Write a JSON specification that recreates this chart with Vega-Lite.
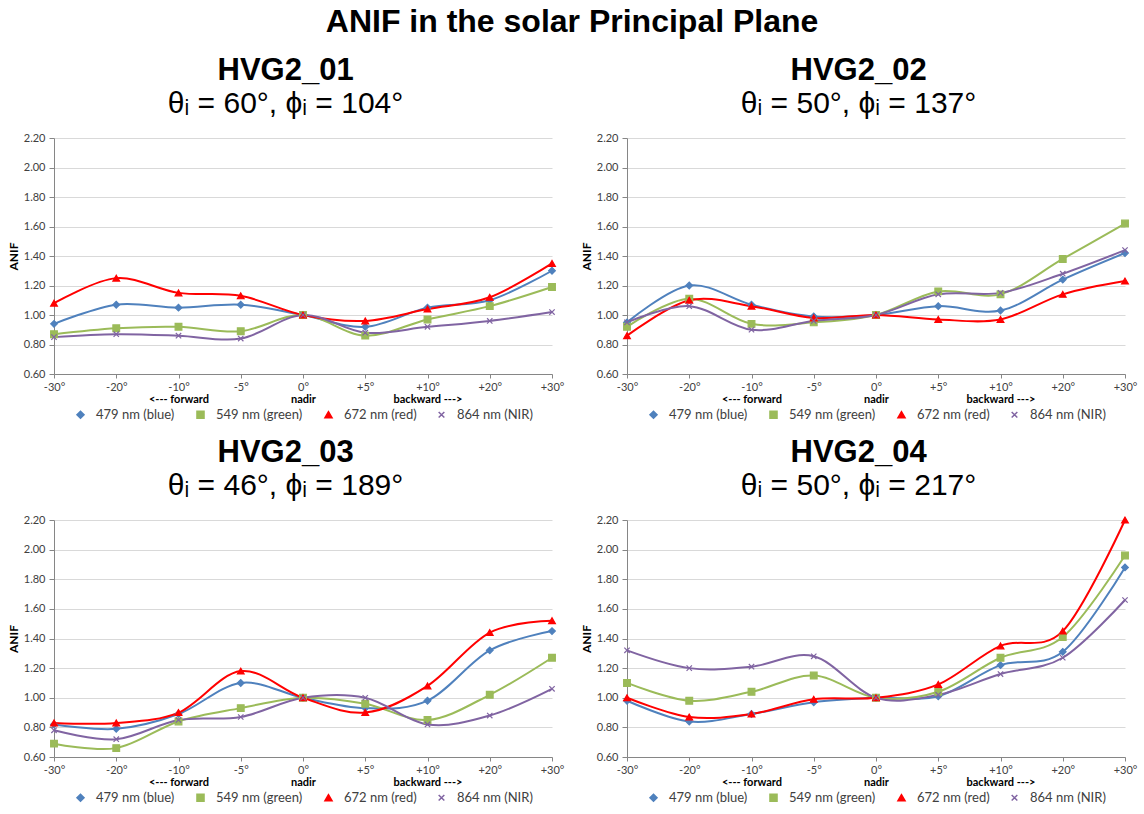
{
  "$schema": "https://vega.github.io/schema/vega-lite/v6.json",
  "background": "white",
  "padding": {"left": 7, "top": 6, "right": 2, "bottom": 2},
  "title": {"text": "ANIF in the solar Principal Plane", "font": "Liberation Sans", "fontSize": 32, "fontWeight": "bold", "color": "#000000", "anchor": "middle", "frame": "bounds", "offset": 16},
  "datasets": {
    "anif": [
      {"panel":"HVG2_01","angle":"-30°","band":"479 nm (blue)","anif":0.94},
      {"panel":"HVG2_01","angle":"-20°","band":"479 nm (blue)","anif":1.07},
      {"panel":"HVG2_01","angle":"-10°","band":"479 nm (blue)","anif":1.05},
      {"panel":"HVG2_01","angle":"-5°","band":"479 nm (blue)","anif":1.07},
      {"panel":"HVG2_01","angle":"0°","band":"479 nm (blue)","anif":1.00},
      {"panel":"HVG2_01","angle":"+5°","band":"479 nm (blue)","anif":0.92},
      {"panel":"HVG2_01","angle":"+10°","band":"479 nm (blue)","anif":1.05},
      {"panel":"HVG2_01","angle":"+20°","band":"479 nm (blue)","anif":1.10},
      {"panel":"HVG2_01","angle":"+30°","band":"479 nm (blue)","anif":1.30},
      {"panel":"HVG2_01","angle":"-30°","band":"549 nm (green)","anif":0.87},
      {"panel":"HVG2_01","angle":"-20°","band":"549 nm (green)","anif":0.91},
      {"panel":"HVG2_01","angle":"-10°","band":"549 nm (green)","anif":0.92},
      {"panel":"HVG2_01","angle":"-5°","band":"549 nm (green)","anif":0.89},
      {"panel":"HVG2_01","angle":"0°","band":"549 nm (green)","anif":1.00},
      {"panel":"HVG2_01","angle":"+5°","band":"549 nm (green)","anif":0.86},
      {"panel":"HVG2_01","angle":"+10°","band":"549 nm (green)","anif":0.97},
      {"panel":"HVG2_01","angle":"+20°","band":"549 nm (green)","anif":1.06},
      {"panel":"HVG2_01","angle":"+30°","band":"549 nm (green)","anif":1.19},
      {"panel":"HVG2_01","angle":"-30°","band":"672 nm (red)","anif":1.08},
      {"panel":"HVG2_01","angle":"-20°","band":"672 nm (red)","anif":1.25},
      {"panel":"HVG2_01","angle":"-10°","band":"672 nm (red)","anif":1.15},
      {"panel":"HVG2_01","angle":"-5°","band":"672 nm (red)","anif":1.13},
      {"panel":"HVG2_01","angle":"0°","band":"672 nm (red)","anif":1.00},
      {"panel":"HVG2_01","angle":"+5°","band":"672 nm (red)","anif":0.96},
      {"panel":"HVG2_01","angle":"+10°","band":"672 nm (red)","anif":1.04},
      {"panel":"HVG2_01","angle":"+20°","band":"672 nm (red)","anif":1.12},
      {"panel":"HVG2_01","angle":"+30°","band":"672 nm (red)","anif":1.35},
      {"panel":"HVG2_01","angle":"-30°","band":"864 nm (NIR)","anif":0.85},
      {"panel":"HVG2_01","angle":"-20°","band":"864 nm (NIR)","anif":0.87},
      {"panel":"HVG2_01","angle":"-10°","band":"864 nm (NIR)","anif":0.86},
      {"panel":"HVG2_01","angle":"-5°","band":"864 nm (NIR)","anif":0.84},
      {"panel":"HVG2_01","angle":"0°","band":"864 nm (NIR)","anif":1.00},
      {"panel":"HVG2_01","angle":"+5°","band":"864 nm (NIR)","anif":0.88},
      {"panel":"HVG2_01","angle":"+10°","band":"864 nm (NIR)","anif":0.92},
      {"panel":"HVG2_01","angle":"+20°","band":"864 nm (NIR)","anif":0.96},
      {"panel":"HVG2_01","angle":"+30°","band":"864 nm (NIR)","anif":1.02},

      {"panel":"HVG2_02","angle":"-30°","band":"479 nm (blue)","anif":0.95},
      {"panel":"HVG2_02","angle":"-20°","band":"479 nm (blue)","anif":1.20},
      {"panel":"HVG2_02","angle":"-10°","band":"479 nm (blue)","anif":1.07},
      {"panel":"HVG2_02","angle":"-5°","band":"479 nm (blue)","anif":0.99},
      {"panel":"HVG2_02","angle":"0°","band":"479 nm (blue)","anif":1.00},
      {"panel":"HVG2_02","angle":"+5°","band":"479 nm (blue)","anif":1.06},
      {"panel":"HVG2_02","angle":"+10°","band":"479 nm (blue)","anif":1.03},
      {"panel":"HVG2_02","angle":"+20°","band":"479 nm (blue)","anif":1.24},
      {"panel":"HVG2_02","angle":"+30°","band":"479 nm (blue)","anif":1.42},
      {"panel":"HVG2_02","angle":"-30°","band":"549 nm (green)","anif":0.92},
      {"panel":"HVG2_02","angle":"-20°","band":"549 nm (green)","anif":1.11},
      {"panel":"HVG2_02","angle":"-10°","band":"549 nm (green)","anif":0.94},
      {"panel":"HVG2_02","angle":"-5°","band":"549 nm (green)","anif":0.95},
      {"panel":"HVG2_02","angle":"0°","band":"549 nm (green)","anif":1.00},
      {"panel":"HVG2_02","angle":"+5°","band":"549 nm (green)","anif":1.16},
      {"panel":"HVG2_02","angle":"+10°","band":"549 nm (green)","anif":1.14},
      {"panel":"HVG2_02","angle":"+20°","band":"549 nm (green)","anif":1.38},
      {"panel":"HVG2_02","angle":"+30°","band":"549 nm (green)","anif":1.62},
      {"panel":"HVG2_02","angle":"-30°","band":"672 nm (red)","anif":0.86},
      {"panel":"HVG2_02","angle":"-20°","band":"672 nm (red)","anif":1.10},
      {"panel":"HVG2_02","angle":"-10°","band":"672 nm (red)","anif":1.06},
      {"panel":"HVG2_02","angle":"-5°","band":"672 nm (red)","anif":0.98},
      {"panel":"HVG2_02","angle":"0°","band":"672 nm (red)","anif":1.00},
      {"panel":"HVG2_02","angle":"+5°","band":"672 nm (red)","anif":0.97},
      {"panel":"HVG2_02","angle":"+10°","band":"672 nm (red)","anif":0.97},
      {"panel":"HVG2_02","angle":"+20°","band":"672 nm (red)","anif":1.14},
      {"panel":"HVG2_02","angle":"+30°","band":"672 nm (red)","anif":1.23},
      {"panel":"HVG2_02","angle":"-30°","band":"864 nm (NIR)","anif":0.95},
      {"panel":"HVG2_02","angle":"-20°","band":"864 nm (NIR)","anif":1.06},
      {"panel":"HVG2_02","angle":"-10°","band":"864 nm (NIR)","anif":0.90},
      {"panel":"HVG2_02","angle":"-5°","band":"864 nm (NIR)","anif":0.96},
      {"panel":"HVG2_02","angle":"0°","band":"864 nm (NIR)","anif":1.00},
      {"panel":"HVG2_02","angle":"+5°","band":"864 nm (NIR)","anif":1.14},
      {"panel":"HVG2_02","angle":"+10°","band":"864 nm (NIR)","anif":1.15},
      {"panel":"HVG2_02","angle":"+20°","band":"864 nm (NIR)","anif":1.28},
      {"panel":"HVG2_02","angle":"+30°","band":"864 nm (NIR)","anif":1.44},

      {"panel":"HVG2_03","angle":"-30°","band":"479 nm (blue)","anif":0.82},
      {"panel":"HVG2_03","angle":"-20°","band":"479 nm (blue)","anif":0.79},
      {"panel":"HVG2_03","angle":"-10°","band":"479 nm (blue)","anif":0.89},
      {"panel":"HVG2_03","angle":"-5°","band":"479 nm (blue)","anif":1.10},
      {"panel":"HVG2_03","angle":"0°","band":"479 nm (blue)","anif":1.00},
      {"panel":"HVG2_03","angle":"+5°","band":"479 nm (blue)","anif":0.93},
      {"panel":"HVG2_03","angle":"+10°","band":"479 nm (blue)","anif":0.98},
      {"panel":"HVG2_03","angle":"+20°","band":"479 nm (blue)","anif":1.32},
      {"panel":"HVG2_03","angle":"+30°","band":"479 nm (blue)","anif":1.45},
      {"panel":"HVG2_03","angle":"-30°","band":"549 nm (green)","anif":0.69},
      {"panel":"HVG2_03","angle":"-20°","band":"549 nm (green)","anif":0.66},
      {"panel":"HVG2_03","angle":"-10°","band":"549 nm (green)","anif":0.84},
      {"panel":"HVG2_03","angle":"-5°","band":"549 nm (green)","anif":0.93},
      {"panel":"HVG2_03","angle":"0°","band":"549 nm (green)","anif":1.00},
      {"panel":"HVG2_03","angle":"+5°","band":"549 nm (green)","anif":0.96},
      {"panel":"HVG2_03","angle":"+10°","band":"549 nm (green)","anif":0.85},
      {"panel":"HVG2_03","angle":"+20°","band":"549 nm (green)","anif":1.02},
      {"panel":"HVG2_03","angle":"+30°","band":"549 nm (green)","anif":1.27},
      {"panel":"HVG2_03","angle":"-30°","band":"672 nm (red)","anif":0.83},
      {"panel":"HVG2_03","angle":"-20°","band":"672 nm (red)","anif":0.83},
      {"panel":"HVG2_03","angle":"-10°","band":"672 nm (red)","anif":0.90},
      {"panel":"HVG2_03","angle":"-5°","band":"672 nm (red)","anif":1.18},
      {"panel":"HVG2_03","angle":"0°","band":"672 nm (red)","anif":1.00},
      {"panel":"HVG2_03","angle":"+5°","band":"672 nm (red)","anif":0.90},
      {"panel":"HVG2_03","angle":"+10°","band":"672 nm (red)","anif":1.08},
      {"panel":"HVG2_03","angle":"+20°","band":"672 nm (red)","anif":1.44},
      {"panel":"HVG2_03","angle":"+30°","band":"672 nm (red)","anif":1.52},
      {"panel":"HVG2_03","angle":"-30°","band":"864 nm (NIR)","anif":0.78},
      {"panel":"HVG2_03","angle":"-20°","band":"864 nm (NIR)","anif":0.72},
      {"panel":"HVG2_03","angle":"-10°","band":"864 nm (NIR)","anif":0.85},
      {"panel":"HVG2_03","angle":"-5°","band":"864 nm (NIR)","anif":0.87},
      {"panel":"HVG2_03","angle":"0°","band":"864 nm (NIR)","anif":1.00},
      {"panel":"HVG2_03","angle":"+5°","band":"864 nm (NIR)","anif":1.00},
      {"panel":"HVG2_03","angle":"+10°","band":"864 nm (NIR)","anif":0.82},
      {"panel":"HVG2_03","angle":"+20°","band":"864 nm (NIR)","anif":0.88},
      {"panel":"HVG2_03","angle":"+30°","band":"864 nm (NIR)","anif":1.06},

      {"panel":"HVG2_04","angle":"-30°","band":"479 nm (blue)","anif":0.98},
      {"panel":"HVG2_04","angle":"-20°","band":"479 nm (blue)","anif":0.84},
      {"panel":"HVG2_04","angle":"-10°","band":"479 nm (blue)","anif":0.89},
      {"panel":"HVG2_04","angle":"-5°","band":"479 nm (blue)","anif":0.97},
      {"panel":"HVG2_04","angle":"0°","band":"479 nm (blue)","anif":1.00},
      {"panel":"HVG2_04","angle":"+5°","band":"479 nm (blue)","anif":1.01},
      {"panel":"HVG2_04","angle":"+10°","band":"479 nm (blue)","anif":1.22},
      {"panel":"HVG2_04","angle":"+20°","band":"479 nm (blue)","anif":1.31},
      {"panel":"HVG2_04","angle":"+30°","band":"479 nm (blue)","anif":1.88},
      {"panel":"HVG2_04","angle":"-30°","band":"549 nm (green)","anif":1.10},
      {"panel":"HVG2_04","angle":"-20°","band":"549 nm (green)","anif":0.98},
      {"panel":"HVG2_04","angle":"-10°","band":"549 nm (green)","anif":1.04},
      {"panel":"HVG2_04","angle":"-5°","band":"549 nm (green)","anif":1.15},
      {"panel":"HVG2_04","angle":"0°","band":"549 nm (green)","anif":1.00},
      {"panel":"HVG2_04","angle":"+5°","band":"549 nm (green)","anif":1.04},
      {"panel":"HVG2_04","angle":"+10°","band":"549 nm (green)","anif":1.27},
      {"panel":"HVG2_04","angle":"+20°","band":"549 nm (green)","anif":1.41},
      {"panel":"HVG2_04","angle":"+30°","band":"549 nm (green)","anif":1.96},
      {"panel":"HVG2_04","angle":"-30°","band":"672 nm (red)","anif":1.00},
      {"panel":"HVG2_04","angle":"-20°","band":"672 nm (red)","anif":0.87},
      {"panel":"HVG2_04","angle":"-10°","band":"672 nm (red)","anif":0.89},
      {"panel":"HVG2_04","angle":"-5°","band":"672 nm (red)","anif":0.99},
      {"panel":"HVG2_04","angle":"0°","band":"672 nm (red)","anif":1.00},
      {"panel":"HVG2_04","angle":"+5°","band":"672 nm (red)","anif":1.09},
      {"panel":"HVG2_04","angle":"+10°","band":"672 nm (red)","anif":1.35},
      {"panel":"HVG2_04","angle":"+20°","band":"672 nm (red)","anif":1.45},
      {"panel":"HVG2_04","angle":"+30°","band":"672 nm (red)","anif":2.20},
      {"panel":"HVG2_04","angle":"-30°","band":"864 nm (NIR)","anif":1.32},
      {"panel":"HVG2_04","angle":"-20°","band":"864 nm (NIR)","anif":1.20},
      {"panel":"HVG2_04","angle":"-10°","band":"864 nm (NIR)","anif":1.21},
      {"panel":"HVG2_04","angle":"-5°","band":"864 nm (NIR)","anif":1.28},
      {"panel":"HVG2_04","angle":"0°","band":"864 nm (NIR)","anif":1.00},
      {"panel":"HVG2_04","angle":"+5°","band":"864 nm (NIR)","anif":1.02},
      {"panel":"HVG2_04","angle":"+10°","band":"864 nm (NIR)","anif":1.16},
      {"panel":"HVG2_04","angle":"+20°","band":"864 nm (NIR)","anif":1.27},
      {"panel":"HVG2_04","angle":"+30°","band":"864 nm (NIR)","anif":1.66}
    ]
  },
  "data": {"name": "anif"},
  "spacing": 15,
  "resolve": {"scale": {"fill": "independent", "stroke": "independent", "shape": "independent"}, "legend": {"fill": "independent", "stroke": "independent", "shape": "independent"}},
  "vconcat": [
    {
      "spacing": 16,
      "resolve": {"scale": {"fill": "independent", "stroke": "independent", "shape": "independent"}, "legend": {"fill": "independent", "stroke": "independent", "shape": "independent"}},
      "hconcat": [
        {
          "title": {"text": "HVG2_01", "subtitle": "θᵢ = 60°, ϕᵢ = 104°"},
          "width": 498, "height": 236,
          "transform": [{"filter": "datum.panel === 'HVG2_01'"}],
          "resolve": {"axis": {"x": "independent"}},
          "layer": [
            {"mark": {"type": "line", "interpolate": "cardinal", "strokeWidth": 2},
             "encoding": {
               "x": {"field": "angle", "type": "ordinal", "sort": ["-30°","-20°","-10°","-5°","0°","+5°","+10°","+20°","+30°"], "scale": {"type": "point", "padding": 0}, "axis": {"orient": "bottom", "title": null, "labelAngle": 0, "grid": false}},
               "y": {"field": "anif", "type": "quantitative", "scale": {"domain": [0.6, 2.2], "nice": false, "zero": false}, "axis": {"title": "ANIF", "values": [0.6,0.8,1.0,1.2,1.4,1.6,1.8,2.0,2.2], "tickCount": 20, "format": ".2f", "labelOverlap": false}},
               "stroke": {"field": "band", "type": "nominal", "scale": {"domain": ["479 nm (blue)","549 nm (green)","672 nm (red)","864 nm (NIR)"], "range": ["#4F81BD","#9BBB59","#FF0000","#8064A2"]}, "legend": {"title": null}},
               "order": {"value": null}
             }},
            {"mark": {"type": "point", "filled": true, "size": 45, "opacity": 1, "strokeWidth": 1.2},
             "encoding": {
               "x": {"field": "angle", "type": "ordinal", "sort": ["-30°","-20°","-10°","-5°","0°","+5°","+10°","+20°","+30°"], "axis": null},
               "y": {"field": "anif", "type": "quantitative", "axis": {"title": "ANIF", "values": [0.6,0.8,1.0,1.2,1.4,1.6,1.8,2.0,2.2], "tickCount": 20, "format": ".2f", "labelOverlap": false}},
               "fill": {"field": "band", "type": "nominal", "scale": {"domain": ["479 nm (blue)","549 nm (green)","672 nm (red)","864 nm (NIR)"], "range": ["#4F81BD","#9BBB59","#FF0000","#8064A2"]}, "legend": {"title": null}},
               "stroke": {"field": "band", "type": "nominal", "legend": {"title": null}},
               "shape": {"field": "band", "type": "nominal", "scale": {"domain": ["479 nm (blue)","549 nm (green)","672 nm (red)","864 nm (NIR)"], "range": ["diamond","square","triangle-up","M-0.8,-0.8L0.8,0.8M-0.8,0.8L0.8,-0.8"]}, "legend": {"title": null}}
             }},
            {"mark": {"type": "point", "opacity": 0},
             "encoding": {
               "x": {"field": "angle", "type": "ordinal", "sort": ["-30°","-20°","-10°","-5°","0°","+5°","+10°","+20°","+30°"], "axis": {"orient": "bottom", "title": null, "labelAngle": 0, "grid": false, "domain": false, "ticks": false, "labelPadding": 19, "labelFontWeight": "bold", "labelColor": "#000000", "labelExpr": "datum.value == '-10°' ? '<--- forward' : datum.value == '0°' ? 'nadir' : datum.value == '+10°' ? 'backward --->' : ''"}},
               "y": {"field": "anif", "type": "quantitative", "axis": {"title": "ANIF", "values": [0.6,0.8,1.0,1.2,1.4,1.6,1.8,2.0,2.2], "tickCount": 20, "format": ".2f", "labelOverlap": false}}
             }}
          ]
        },
        {
          "title": {"text": "HVG2_02", "subtitle": "θᵢ = 50°, ϕᵢ = 137°"},
          "width": 498, "height": 236,
          "transform": [{"filter": "datum.panel === 'HVG2_02'"}],
          "resolve": {"axis": {"x": "independent"}},
          "layer": [
            {"mark": {"type": "line", "interpolate": "cardinal", "strokeWidth": 2},
             "encoding": {
               "x": {"field": "angle", "type": "ordinal", "sort": ["-30°","-20°","-10°","-5°","0°","+5°","+10°","+20°","+30°"], "scale": {"type": "point", "padding": 0}, "axis": {"orient": "bottom", "title": null, "labelAngle": 0, "grid": false}},
               "y": {"field": "anif", "type": "quantitative", "scale": {"domain": [0.6, 2.2], "nice": false, "zero": false}, "axis": {"title": "ANIF", "values": [0.6,0.8,1.0,1.2,1.4,1.6,1.8,2.0,2.2], "tickCount": 20, "format": ".2f", "labelOverlap": false}},
               "stroke": {"field": "band", "type": "nominal", "scale": {"domain": ["479 nm (blue)","549 nm (green)","672 nm (red)","864 nm (NIR)"], "range": ["#4F81BD","#9BBB59","#FF0000","#8064A2"]}, "legend": {"title": null}},
               "order": {"value": null}
             }},
            {"mark": {"type": "point", "filled": true, "size": 45, "opacity": 1, "strokeWidth": 1.2},
             "encoding": {
               "x": {"field": "angle", "type": "ordinal", "sort": ["-30°","-20°","-10°","-5°","0°","+5°","+10°","+20°","+30°"], "axis": null},
               "y": {"field": "anif", "type": "quantitative", "axis": {"title": "ANIF", "values": [0.6,0.8,1.0,1.2,1.4,1.6,1.8,2.0,2.2], "tickCount": 20, "format": ".2f", "labelOverlap": false}},
               "fill": {"field": "band", "type": "nominal", "scale": {"domain": ["479 nm (blue)","549 nm (green)","672 nm (red)","864 nm (NIR)"], "range": ["#4F81BD","#9BBB59","#FF0000","#8064A2"]}, "legend": {"title": null}},
               "stroke": {"field": "band", "type": "nominal", "legend": {"title": null}},
               "shape": {"field": "band", "type": "nominal", "scale": {"domain": ["479 nm (blue)","549 nm (green)","672 nm (red)","864 nm (NIR)"], "range": ["diamond","square","triangle-up","M-0.8,-0.8L0.8,0.8M-0.8,0.8L0.8,-0.8"]}, "legend": {"title": null}}
             }},
            {"mark": {"type": "point", "opacity": 0},
             "encoding": {
               "x": {"field": "angle", "type": "ordinal", "sort": ["-30°","-20°","-10°","-5°","0°","+5°","+10°","+20°","+30°"], "axis": {"orient": "bottom", "title": null, "labelAngle": 0, "grid": false, "domain": false, "ticks": false, "labelPadding": 19, "labelFontWeight": "bold", "labelColor": "#000000", "labelExpr": "datum.value == '-10°' ? '<--- forward' : datum.value == '0°' ? 'nadir' : datum.value == '+10°' ? 'backward --->' : ''"}},
               "y": {"field": "anif", "type": "quantitative", "axis": {"title": "ANIF", "values": [0.6,0.8,1.0,1.2,1.4,1.6,1.8,2.0,2.2], "tickCount": 20, "format": ".2f", "labelOverlap": false}}
             }}
          ]
        }
      ]
    },
    {
      "spacing": 16,
      "resolve": {"scale": {"fill": "independent", "stroke": "independent", "shape": "independent"}, "legend": {"fill": "independent", "stroke": "independent", "shape": "independent"}},
      "hconcat": [
        {
          "title": {"text": "HVG2_03", "subtitle": "θᵢ = 46°, ϕᵢ = 189°"},
          "width": 498, "height": 237,
          "transform": [{"filter": "datum.panel === 'HVG2_03'"}],
          "resolve": {"axis": {"x": "independent"}},
          "layer": [
            {"mark": {"type": "line", "interpolate": "cardinal", "strokeWidth": 2},
             "encoding": {
               "x": {"field": "angle", "type": "ordinal", "sort": ["-30°","-20°","-10°","-5°","0°","+5°","+10°","+20°","+30°"], "scale": {"type": "point", "padding": 0}, "axis": {"orient": "bottom", "title": null, "labelAngle": 0, "grid": false}},
               "y": {"field": "anif", "type": "quantitative", "scale": {"domain": [0.6, 2.2], "nice": false, "zero": false}, "axis": {"title": "ANIF", "values": [0.6,0.8,1.0,1.2,1.4,1.6,1.8,2.0,2.2], "tickCount": 20, "format": ".2f", "labelOverlap": false}},
               "stroke": {"field": "band", "type": "nominal", "scale": {"domain": ["479 nm (blue)","549 nm (green)","672 nm (red)","864 nm (NIR)"], "range": ["#4F81BD","#9BBB59","#FF0000","#8064A2"]}, "legend": {"title": null}},
               "order": {"value": null}
             }},
            {"mark": {"type": "point", "filled": true, "size": 45, "opacity": 1, "strokeWidth": 1.2},
             "encoding": {
               "x": {"field": "angle", "type": "ordinal", "sort": ["-30°","-20°","-10°","-5°","0°","+5°","+10°","+20°","+30°"], "axis": null},
               "y": {"field": "anif", "type": "quantitative", "axis": {"title": "ANIF", "values": [0.6,0.8,1.0,1.2,1.4,1.6,1.8,2.0,2.2], "tickCount": 20, "format": ".2f", "labelOverlap": false}},
               "fill": {"field": "band", "type": "nominal", "scale": {"domain": ["479 nm (blue)","549 nm (green)","672 nm (red)","864 nm (NIR)"], "range": ["#4F81BD","#9BBB59","#FF0000","#8064A2"]}, "legend": {"title": null}},
               "stroke": {"field": "band", "type": "nominal", "legend": {"title": null}},
               "shape": {"field": "band", "type": "nominal", "scale": {"domain": ["479 nm (blue)","549 nm (green)","672 nm (red)","864 nm (NIR)"], "range": ["diamond","square","triangle-up","M-0.8,-0.8L0.8,0.8M-0.8,0.8L0.8,-0.8"]}, "legend": {"title": null}}
             }},
            {"mark": {"type": "point", "opacity": 0},
             "encoding": {
               "x": {"field": "angle", "type": "ordinal", "sort": ["-30°","-20°","-10°","-5°","0°","+5°","+10°","+20°","+30°"], "axis": {"orient": "bottom", "title": null, "labelAngle": 0, "grid": false, "domain": false, "ticks": false, "labelPadding": 19, "labelFontWeight": "bold", "labelColor": "#000000", "labelExpr": "datum.value == '-10°' ? '<--- forward' : datum.value == '0°' ? 'nadir' : datum.value == '+10°' ? 'backward --->' : ''"}},
               "y": {"field": "anif", "type": "quantitative", "axis": {"title": "ANIF", "values": [0.6,0.8,1.0,1.2,1.4,1.6,1.8,2.0,2.2], "tickCount": 20, "format": ".2f", "labelOverlap": false}}
             }}
          ]
        },
        {
          "title": {"text": "HVG2_04", "subtitle": "θᵢ = 50°, ϕᵢ = 217°"},
          "width": 498, "height": 237,
          "transform": [{"filter": "datum.panel === 'HVG2_04'"}],
          "resolve": {"axis": {"x": "independent"}},
          "layer": [
            {"mark": {"type": "line", "interpolate": "cardinal", "strokeWidth": 2},
             "encoding": {
               "x": {"field": "angle", "type": "ordinal", "sort": ["-30°","-20°","-10°","-5°","0°","+5°","+10°","+20°","+30°"], "scale": {"type": "point", "padding": 0}, "axis": {"orient": "bottom", "title": null, "labelAngle": 0, "grid": false}},
               "y": {"field": "anif", "type": "quantitative", "scale": {"domain": [0.6, 2.2], "nice": false, "zero": false}, "axis": {"title": "ANIF", "values": [0.6,0.8,1.0,1.2,1.4,1.6,1.8,2.0,2.2], "tickCount": 20, "format": ".2f", "labelOverlap": false}},
               "stroke": {"field": "band", "type": "nominal", "scale": {"domain": ["479 nm (blue)","549 nm (green)","672 nm (red)","864 nm (NIR)"], "range": ["#4F81BD","#9BBB59","#FF0000","#8064A2"]}, "legend": {"title": null}},
               "order": {"value": null}
             }},
            {"mark": {"type": "point", "filled": true, "size": 45, "opacity": 1, "strokeWidth": 1.2},
             "encoding": {
               "x": {"field": "angle", "type": "ordinal", "sort": ["-30°","-20°","-10°","-5°","0°","+5°","+10°","+20°","+30°"], "axis": null},
               "y": {"field": "anif", "type": "quantitative", "axis": {"title": "ANIF", "values": [0.6,0.8,1.0,1.2,1.4,1.6,1.8,2.0,2.2], "tickCount": 20, "format": ".2f", "labelOverlap": false}},
               "fill": {"field": "band", "type": "nominal", "scale": {"domain": ["479 nm (blue)","549 nm (green)","672 nm (red)","864 nm (NIR)"], "range": ["#4F81BD","#9BBB59","#FF0000","#8064A2"]}, "legend": {"title": null}},
               "stroke": {"field": "band", "type": "nominal", "legend": {"title": null}},
               "shape": {"field": "band", "type": "nominal", "scale": {"domain": ["479 nm (blue)","549 nm (green)","672 nm (red)","864 nm (NIR)"], "range": ["diamond","square","triangle-up","M-0.8,-0.8L0.8,0.8M-0.8,0.8L0.8,-0.8"]}, "legend": {"title": null}}
             }},
            {"mark": {"type": "point", "opacity": 0},
             "encoding": {
               "x": {"field": "angle", "type": "ordinal", "sort": ["-30°","-20°","-10°","-5°","0°","+5°","+10°","+20°","+30°"], "axis": {"orient": "bottom", "title": null, "labelAngle": 0, "grid": false, "domain": false, "ticks": false, "labelPadding": 19, "labelFontWeight": "bold", "labelColor": "#000000", "labelExpr": "datum.value == '-10°' ? '<--- forward' : datum.value == '0°' ? 'nadir' : datum.value == '+10°' ? 'backward --->' : ''"}},
               "y": {"field": "anif", "type": "quantitative", "axis": {"title": "ANIF", "values": [0.6,0.8,1.0,1.2,1.4,1.6,1.8,2.0,2.2], "tickCount": 20, "format": ".2f", "labelOverlap": false}}
             }}
          ]
        }
      ]
    }
  ],
  "config": {
    "font": "Lato",
    "view": {"stroke": null},
    "title": {"font": "Liberation Sans", "fontSize": 31, "fontWeight": "bold", "color": "#000000", "anchor": "middle", "frame": "bounds", "subtitleFont": "Liberation Sans", "subtitleFontSize": 30, "subtitleColor": "#000000", "subtitlePadding": 2, "offset": 12},
    "axis": {"labelFont": "Lato", "labelFontSize": 11, "labelColor": "#404040", "titleFont": "Lato", "titleFontSize": 12, "titleFontWeight": "bold", "titleColor": "#000000", "domainColor": "#868686", "tickColor": "#868686", "tickSize": 4, "labelOverlap": false, "labelPadding": 3},
    "axisY": {"grid": true, "gridColor": "#D9D9D9", "titlePadding": 3, "tickSize": 5, "labelPadding": 4},
    "axisX": {"grid": false},
    "legend": {"orient": "bottom", "direction": "horizontal", "labelFont": "Lato", "labelFontSize": 13, "labelColor": "#404040", "symbolSize": 50, "symbolStrokeWidth": 1.5, "labelOffset": 9, "columnPadding": 18, "offset": 4, "padding": 0, "layout": {"bottom": {"anchor": "middle"}}}
  }
}
